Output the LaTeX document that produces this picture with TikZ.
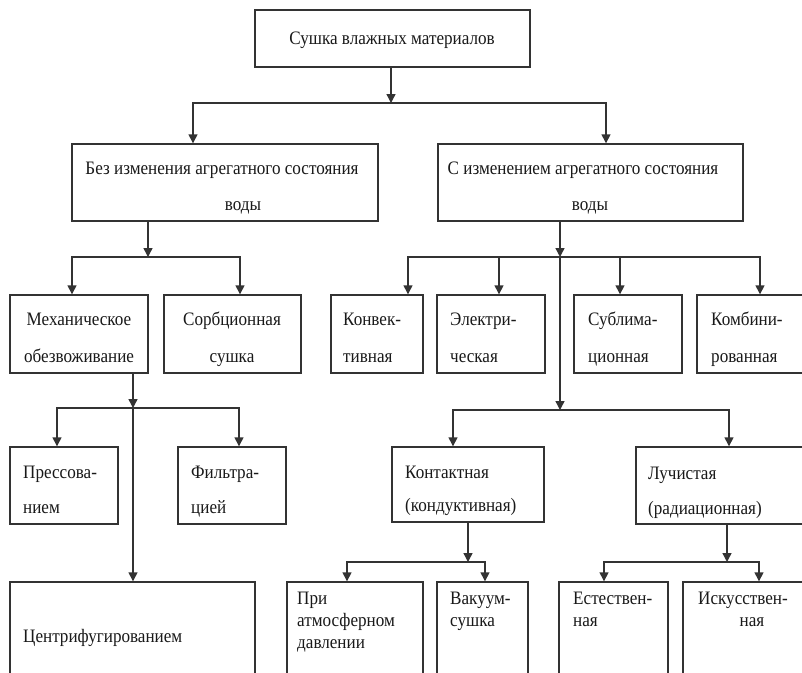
\documentclass[tikz,border=0pt]{standalone}
\usepackage{fontspec}
\setmainfont[FakeStretch=0.9]{Liberation Serif}
\usetikzlibrary{arrows.meta,fit}
\begin{document}
\begin{tikzpicture}[x=1pt,y=-1pt,
  box/.style={draw=black!80, line width=1.4pt, rectangle, inner sep=0pt},
  lbl/.style={font=\fontsize{19}{22}\selectfont, inner sep=0pt, text=black!90},
  conn/.style={draw=black!80, line width=1.4pt},
  arr/.style={conn, -{Triangle[length=9pt,width=9pt]}}]
\useasboundingbox (0,0) rectangle (802,672);
\fill[white] (0,0) rectangle (802,672);
\clip (0,0) rectangle (802,672);
% boxes
\node[box, fit={(255,10) (530,67)}] (top) {};
\node[box, fit={(72,144) (378,221)}] (b2a) {};
\node[box, fit={(438,144) (743,221)}] (b2b) {};
\node[box, fit={(10,295) (148,373)}] (mech) {};
\node[box, fit={(164,295) (301,373)}] (sorb) {};
\node[box, fit={(331,295) (423,373)}] (konv) {};
\node[box, fit={(437,295) (545,373)}] (elek) {};
\node[box, fit={(574,295) (682,373)}] (subl) {};
\node[box, fit={(697,295) (815,373)}] (komb) {};
\node[box, fit={(10,447) (118,524)}] (press) {};
\node[box, fit={(178,447) (286,524)}] (filt) {};
\node[box, fit={(392,447) (544,522)}] (kont) {};
\node[box, fit={(636,447) (815,524)}] (luch) {};
\node[box, fit={(10,582) (255,690)}] (centr) {};
\node[box, fit={(287,582) (423,690)}] (atm) {};
\node[box, fit={(437,582) (528,690)}] (vac) {};
\node[box, fit={(559,582) (668,690)}] (nat) {};
\node[box, fit={(683,582) (815,690)}] (art) {};
% texts
\node[lbl, anchor=base] (t0) at (392,44) {Сушка влажных материалов};
\node[lbl, anchor=base] (t1) at (222,174) {Без изменения агрегатного состояния};
\node[lbl, anchor=base] (t2) at (243,210) {воды};
\node[lbl, anchor=base] (t3) at (583,174) {С изменением агрегатного состояния};
\node[lbl, anchor=base] (t4) at (590,210) {воды};
\node[lbl, anchor=base] (t5) at (79,325) {Механическое};
\node[lbl, anchor=base] (t6) at (79,362) {обезвоживание};
\node[lbl, anchor=base] (t7) at (232,325) {Сорбционная};
\node[lbl, anchor=base] (t8) at (232,362) {сушка};
\node[lbl, anchor=base west] (t9) at (343,325) {Конвек-};
\node[lbl, anchor=base west] (t10) at (343,362) {тивная};
\node[lbl, anchor=base west] (t11) at (450,325) {Электри-};
\node[lbl, anchor=base west] (t12) at (450,362) {ческая};
\node[lbl, anchor=base west] (t13) at (588,325) {Сублима-};
\node[lbl, anchor=base west] (t14) at (588,362) {ционная};
\node[lbl, anchor=base west] (t15) at (711,325) {Комбини-};
\node[lbl, anchor=base west] (t16) at (711,362) {рованная};
\node[lbl, anchor=base west] (t17) at (23,478) {Прессова-};
\node[lbl, anchor=base west] (t18) at (23,513) {нием};
\node[lbl, anchor=base west] (t19) at (191,478) {Фильтра-};
\node[lbl, anchor=base west] (t20) at (191,513) {цией};
\node[lbl, anchor=base west] (t21) at (405,478) {Контактная};
\node[lbl, anchor=base west] (t22) at (405,511) {(кондуктивная)};
\node[lbl, anchor=base west] (t23) at (648,479) {Лучистая};
\node[lbl, anchor=base west] (t24) at (648,514) {(радиационная)};
\node[lbl, anchor=base west] (t25) at (23,642) {Центрифугированием};
\node[lbl, anchor=base west] (t26) at (297,604) {При};
\node[lbl, anchor=base west] (t27) at (297,626) {атмосферном};
\node[lbl, anchor=base west] (t28) at (297,648) {давлении};
\node[lbl, anchor=base west] (t29) at (450,604) {Вакуум-};
\node[lbl, anchor=base west] (t30) at (450,626) {сушка};
\node[lbl, anchor=base west] (t31) at (573,604) {Естествен-};
\node[lbl, anchor=base west] (t32) at (573,626) {ная};
\node[lbl, anchor=base] (t33) at (743,604) {Искусствен-};
\node[lbl, anchor=base] (t34) at (752,626) {ная};
% junctions
\coordinate (j0) at (391,103);
\coordinate (j1) at (148,257);
\coordinate (j2) at (560,257);
\coordinate (j3) at (133,408);
\coordinate (j4) at (560,410);
\coordinate (j5) at (468,562);
\coordinate (j6) at (727,562);
% level 1
\draw[arr] (top.south -| j0) -- (j0);
\draw[arr] (j0) -- (193,103) -- (b2a.north -| 193,0);
\draw[arr] (j0) -- (606,103) -- (b2b.north -| 606,0);
% left level 2
\draw[arr] (b2a.south -| j1) -- (j1);
\draw[arr] (j1) -- (72,257) -- (mech.north -| 72,0);
\draw[arr] (j1) -- (240,257) -- (sorb.north -| 240,0);
% right level 2
\draw[arr] (b2b.south -| j2) -- (j2);
\draw[arr] (j2) -- (j4);
\draw[arr] (j2) -- (408,257) -- (konv.north -| 408,0);
\draw[arr] (499,257) -- (elek.north -| 499,0);
\draw[arr] (j2) -- (760,257) -- (komb.north -| 760,0);
\draw[arr] (620,257) -- (subl.north -| 620,0);
% mechanical
\draw[arr] (mech.south -| j3) -- (j3);
\draw[arr] (j3) -- (centr.north -| j3);
\draw[arr] (j3) -- (57,408) -- (press.north -| 57,0);
\draw[arr] (j3) -- (239,408) -- (filt.north -| 239,0);
% contact / radiation
\draw[arr] (j4) -- (453,410) -- (kont.north -| 453,0);
\draw[arr] (j4) -- (729,410) -- (luch.north -| 729,0);
\draw[arr] (kont.south -| j5) -- (j5);
\draw[arr] (j5) -- (347,562) -- (atm.north -| 347,0);
\draw[arr] (j5) -- (485,562) -- (vac.north -| 485,0);
\draw[arr] (luch.south -| j6) -- (j6);
\draw[arr] (j6) -- (604,562) -- (nat.north -| 604,0);
\draw[arr] (j6) -- (759,562) -- (art.north -| 759,0);
\end{tikzpicture}
\end{document}
